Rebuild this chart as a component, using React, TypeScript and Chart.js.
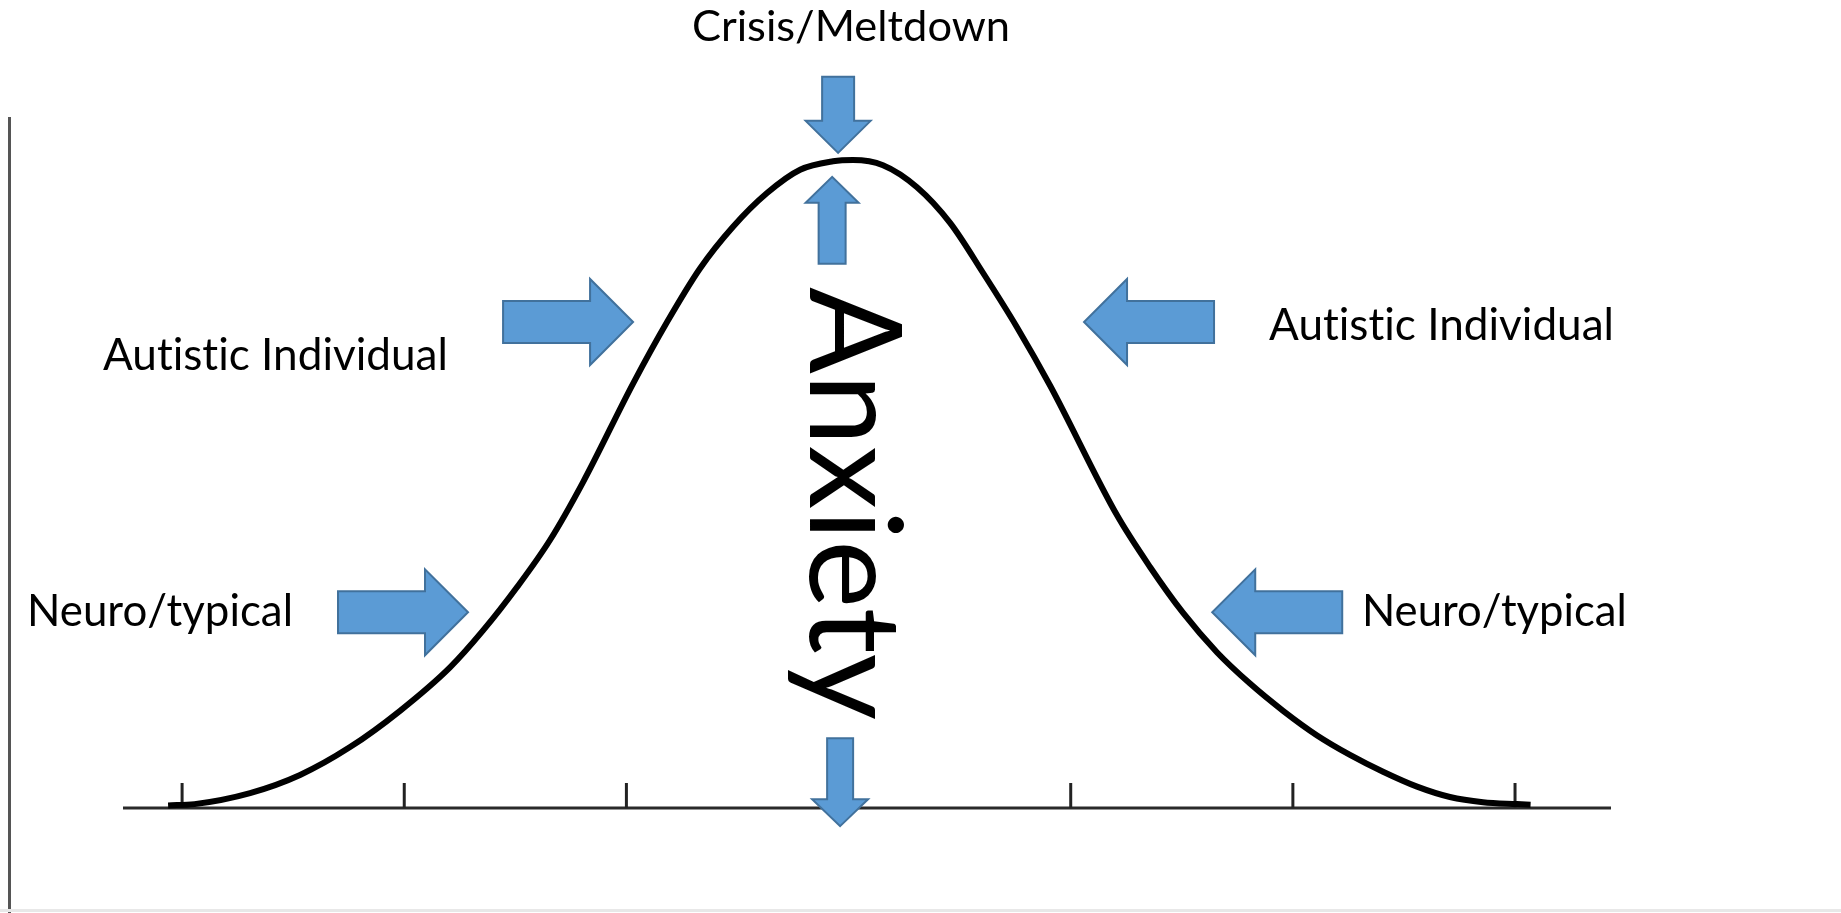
import React, { useEffect, useRef } from 'react';
import { Chart, registerables } from 'chart.js';

Chart.register(...registerables);

// Bell curve (x in tick units, y as share of peak height)
const curveX = [-3.063, -2.944, -2.694, -2.469, -2.244, -2.019, -1.794, -1.645, -1.492, -1.343, -1.195, -0.97, -0.817, -0.668, -0.52, -0.367, -0.218, -0.07, 0.02, 0.155, 0.308, 0.457, 0.605, 0.758, 0.907, 1.208, 1.357, 1.506, 1.659, 1.807, 1.956, 2.109, 2.257, 2.406, 2.559, 2.707, 2.856, 3.009, 3.07];
const curveY = [0.004, 0.006, 0.023, 0.051, 0.094, 0.15, 0.217, 0.274, 0.341, 0.414, 0.503, 0.655, 0.75, 0.833, 0.897, 0.949, 0.985, 0.998, 1.0, 0.992, 0.958, 0.903, 0.826, 0.742, 0.652, 0.452, 0.372, 0.301, 0.24, 0.192, 0.15, 0.112, 0.082, 0.056, 0.033, 0.017, 0.009, 0.006, 0.005];

const tickValues = [-3, -2, -1, 0, 1, 2, 3];

const X_MIN = -3.266;
const X_MAX = 3.432;

// Block arrows: tip anchored in data units
const arrowDirs = ['down', 'up', 'down', 'right', 'left', 'right', 'left'];
const arrowTipX = [-0.047, -0.074, -0.038, -0.97, 1.06, -1.713, 1.637];
const arrowTipY = [1.011, 0.974, -0.028, 0.75, 0.75, 0.302, 0.302];
// [total length, head length, shaft width, head width]
const arrowShapes = [
  [76, 32, 32, 65],
  [87, 26, 27, 53],
  [88, 27, 26, 56],
  [130, 43, 42, 86],
  [130, 43, 42, 86],
  [130, 43, 42, 86],
  [130, 43, 42, 86],
];

// Text labels
const labelTexts = ['Crisis/Meltdown', 'Autistic Individual', 'Autistic Individual', 'Neuro/typical', 'Neuro/typical'];
const labelX = [0.011, -3.356, 1.893, -3.698, 2.311];
const labelY = [1.184, 0.676, 0.722, 0.281, 0.281];
const labelAlign = ['center', 'left', 'left', 'left', 'left'];
const labelWidth = [318, 345, 345, 266, 265];

const verticalLabel = 'Anxiety';
const verticalX = -0.173;
const verticalY = 0.804;
const verticalLength = 433;

const FONT = 'Lato, "Open Sans", sans-serif';

function prepText(ctx: any) {
  try { ctx.textRendering = 'optimizeSpeed'; } catch (e) {}
}

function fitFont(ctx: CanvasRenderingContext2D, text: string, width: number) {
  ctx.font = `40px ${FONT}`;
  const w = ctx.measureText(text).width;
  const size = (40 * width) / w;
  return `${size}px ${FONT}`;
}

function drawArrow(ctx: CanvasRenderingContext2D, dir: string, tx: number, ty: number, shape: number[]) {
  const [L, H, W, HW] = shape;
  const pts: [number, number][] = [
    [0, 0],
    [-H, -HW / 2],
    [-H, -W / 2],
    [-L, -W / 2],
    [-L, W / 2],
    [-H, W / 2],
    [-H, HW / 2],
  ];
  const rot: Record<string, number> = { right: 0, down: Math.PI / 2, left: Math.PI, up: -Math.PI / 2 };
  const a = rot[dir];
  const c = Math.cos(a), s = Math.sin(a);
  ctx.beginPath();
  pts.forEach(([x, y], i) => {
    const px = tx + x * c - y * s;
    const py = ty + x * s + y * c;
    if (i === 0) ctx.moveTo(px, py);
    else ctx.lineTo(px, py);
  });
  ctx.closePath();
  ctx.fillStyle = '#5B9BD5';
  ctx.fill();
  ctx.lineWidth = 2;
  ctx.strokeStyle = '#41719C';
  ctx.lineJoin = 'miter';
  ctx.stroke();
}

const decorPlugin = {
  id: 'decor',
  beforeDatasetsDraw(chart: any) {
    const { ctx, chartArea, scales } = chart;
    const xs = scales.x, ys = scales.y;
    ctx.save();
    // frame lines
    ctx.strokeStyle = '#555555';
    ctx.lineWidth = 3;
    ctx.beginPath();
    ctx.moveTo(9.5, 117);
    ctx.lineTo(9.5, chart.height);
    ctx.stroke();
    ctx.strokeStyle = '#e8e8e8';
    ctx.beginPath();
    ctx.moveTo(0, 910.5);
    ctx.lineTo(chart.width, 910.5);
    ctx.stroke();
    // axis line
    const y0 = ys.getPixelForValue(0);
    ctx.strokeStyle = '#2a2a2a';
    ctx.lineWidth = 3;
    ctx.beginPath();
    ctx.moveTo(chartArea.left, y0);
    ctx.lineTo(chartArea.right, y0);
    ctx.stroke();
    // ticks
    ctx.lineWidth = 3;
    ctx.strokeStyle = '#222222';
    tickValues.forEach((t) => {
      const px = xs.getPixelForValue(t);
      ctx.beginPath();
      ctx.moveTo(px, y0);
      ctx.lineTo(px, y0 - 25);
      ctx.stroke();
    });
    ctx.restore();
  },
  afterDatasetsDraw(chart: any) {
    const { ctx, scales } = chart;
    const xs = scales.x, ys = scales.y;
    ctx.save();
    arrowDirs.forEach((d, i) => {
      drawArrow(ctx, d, xs.getPixelForValue(arrowTipX[i]), ys.getPixelForValue(arrowTipY[i]), arrowShapes[i]);
    });
    prepText(ctx);
    ctx.fillStyle = '#000000';
    ctx.textBaseline = 'alphabetic';
    labelTexts.forEach((t, i) => {
      ctx.font = fitFont(ctx, t, labelWidth[i]);
      ctx.textAlign = labelAlign[i] as CanvasTextAlign;
      ctx.fillText(t, xs.getPixelForValue(labelX[i]), ys.getPixelForValue(labelY[i]));
    });
    ctx.save();
    ctx.translate(xs.getPixelForValue(verticalX), ys.getPixelForValue(verticalY));
    ctx.rotate(Math.PI / 2);
    ctx.font = fitFont(ctx, verticalLabel, verticalLength);
    ctx.textAlign = 'left';
    ctx.fillText(verticalLabel, 0, 0);
    ctx.restore();
    ctx.restore();
  },
};

export default function App() {
  const ref = useRef<HTMLCanvasElement | null>(null);
  useEffect(() => {
    document.body.style.margin = '0';
    const canvas = ref.current;
    if (!canvas) return;
    const chart = new Chart(canvas, {
      type: 'line',
      data: {
        datasets: [
          {
            data: curveX.map((x, i) => ({ x, y: curveY[i] })),
            borderColor: '#000000',
            borderWidth: 6,
            pointRadius: 0,
            cubicInterpolationMode: 'monotone',
            fill: false,
            clip: false as any,
          },
        ],
      },
      options: {
        animation: false,
        responsive: false,
        devicePixelRatio: 1,
        layout: { padding: { left: 123, right: 230, top: 160, bottom: 105 } },
        plugins: { legend: { display: false }, tooltip: { enabled: false } },
        events: [],
        scales: {
          x: { type: 'linear', min: X_MIN, max: X_MAX, display: false },
          y: { type: 'linear', min: 0, max: 1, display: false },
        },
      },
      plugins: [decorPlugin],
    });
    return () => chart.destroy();
  }, []);
  return (
    <div style={{ width: 1841, height: 913, background: '#ffffff' }}>
      <canvas ref={ref} width={1841} height={913} style={{ display: 'block' }} />
    </div>
  );
}
